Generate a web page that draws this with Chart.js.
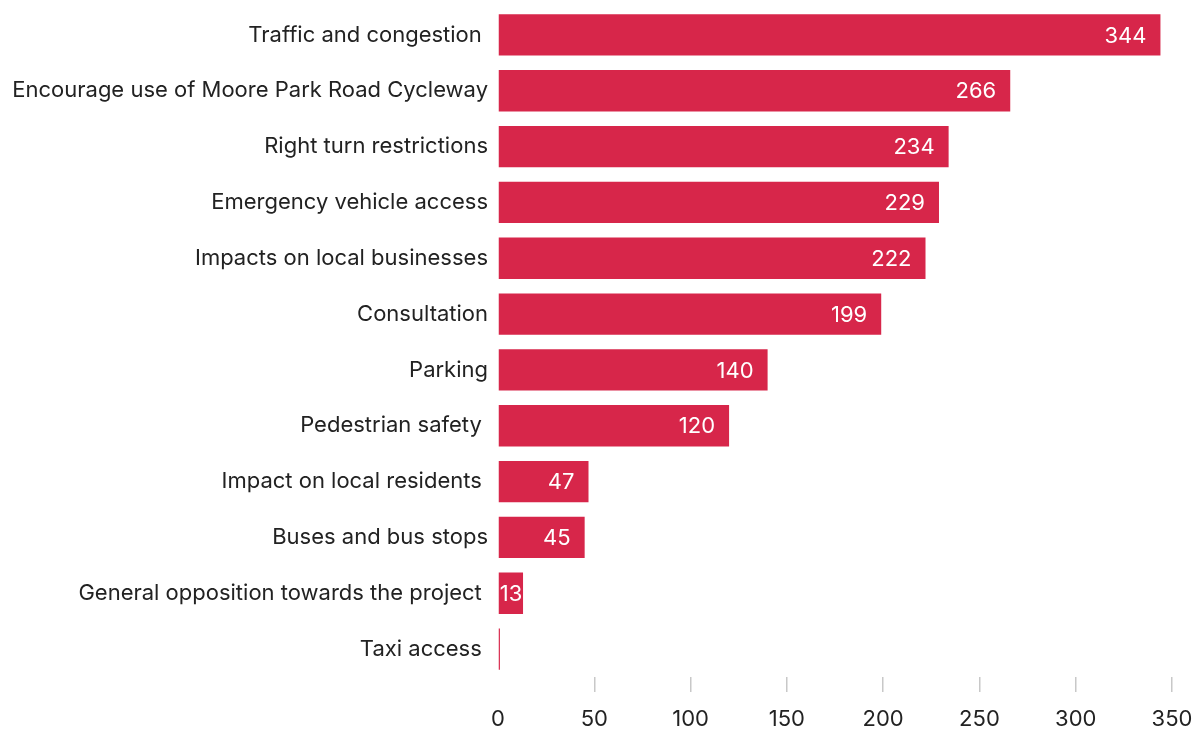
<!DOCTYPE html>
<html><head><meta charset="utf-8">
<script src="https://cdn.jsdelivr.net/npm/chart.js@4"></script>
<style>html,body{margin:0;padding:0;background:#fff}#wrap{width:1197px;height:729px;position:relative}</style>
</head><body><div id="wrap"><canvas id="c"></canvas></div>
<script>
const categories = ["Traffic and congestion ","Encourage use of Moore Park Road Cycleway","Right turn restrictions","Emergency vehicle access","Impacts on local businesses","Consultation","Parking","Pedestrian safety ","Impact on local residents ","Buses and bus stops","General opposition towards the project ","Taxi access "];
const values = [344,266,234,229,222,199,140,120,47,45,13,1];
const tickValues = [0,50,100,150,200,250,300,350];

const FONT = "Inter, 'Open Sans', sans-serif";
const labelPlugin = {
  id:'valLabels',
  afterDatasetsDraw(chart){
    const ctx = chart.ctx;
    const meta = chart.getDatasetMeta(0);
    ctx.save();
    ctx.font = "22px " + FONT;
    ctx.fillStyle = "#ffffff";
    ctx.textAlign = "right";
    ctx.textBaseline = "middle";
    meta.data.forEach((bar,i)=>{
      const v = values[i];
      if (v < 5) return;
      const t = String(v);
      const w = ctx.measureText(t).width;
      let x = bar.x - 14;
      if (x - w < bar.base + 1) x = bar.base + w + 1;
      ctx.fillText(t, x, bar.y + 1);
    });
    ctx.restore();
  }
};

new Chart(document.getElementById('c'), {
  type:'bar',
  data:{labels:categories, datasets:[{data:values, backgroundColor:'#D7264A', borderWidth:0, categoryPercentage:1, barPercentage:0.74}]},
  options:{
    indexAxis:'y', responsive:true, maintainAspectRatio:false, animation:false,
    layout:{padding:{top:7,right:25,bottom:0,left:0}, autoPadding:false},
    plugins:{legend:{display:false}, tooltip:{enabled:false}},
    scales:{
      x:{min:0,max:350,
        afterBuildTicks(s){ s.ticks = tickValues.map(v=>({value:v})); },
        afterFit(s){ s.height = 52; s.paddingLeft = 0; s.paddingRight = 0; },
        border:{display:false},
        grid:{drawOnChartArea:false, drawTicks:true, tickLength:15, lineWidth:1.5,
          color:(c)=> (c.tick && c.tick.value===0) ? 'rgba(0,0,0,0)' : '#c8c8c8'},
        ticks:{padding:14, color:'#222', font:{family:FONT,size:22}, maxRotation:0}
      },
      y:{
        afterFit(s){ s.width = 498; s.paddingTop = 0; s.paddingBottom = 0; },
        border:{display:false},
        grid:{display:false, drawTicks:false},
        ticks:{padding:10, color:'#222', font:{family:FONT,size:22}}
      }
    }
  },
  plugins:[labelPlugin]
});
</script></body></html>
